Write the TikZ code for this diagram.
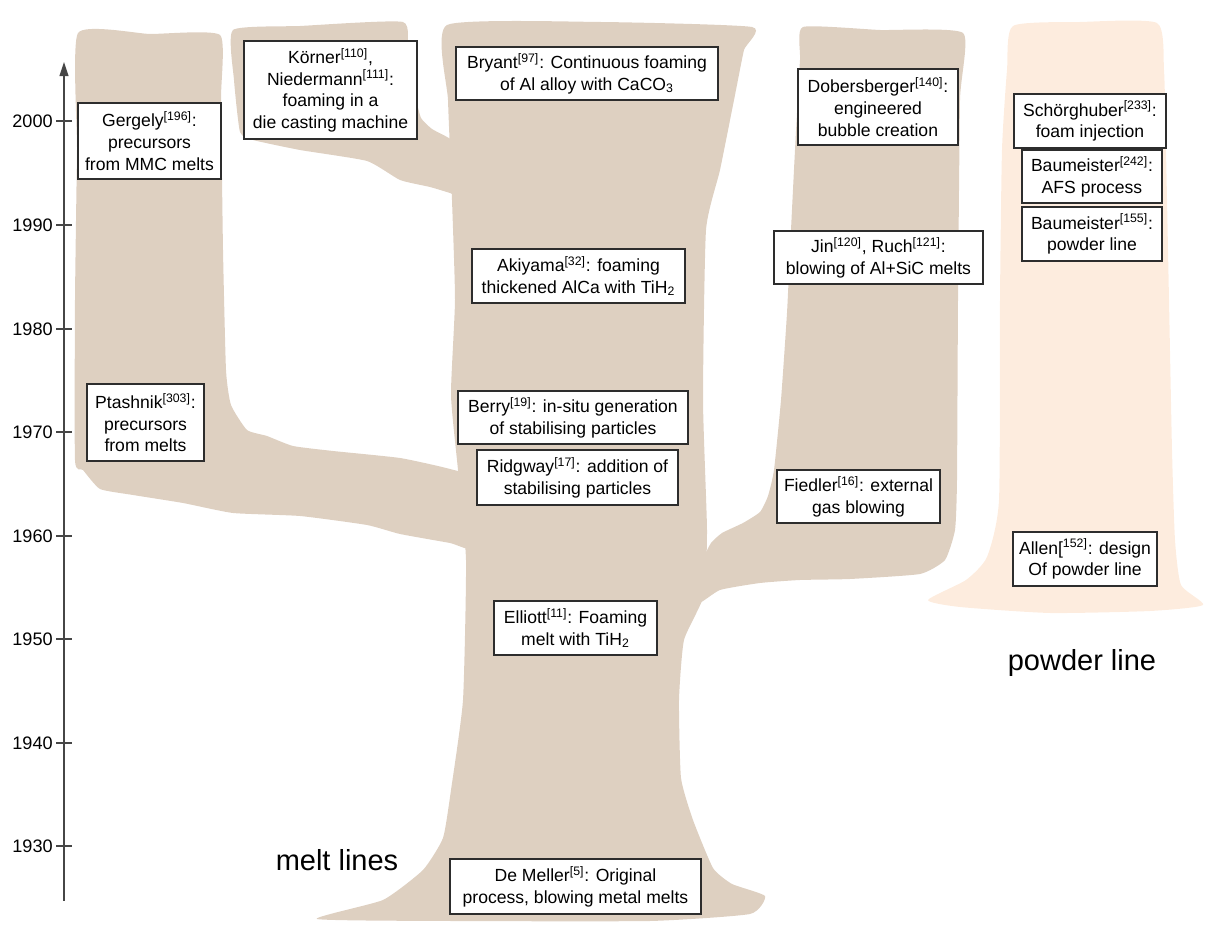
\documentclass[tikz,border=0pt]{standalone}
\usepackage{fontspec}
\setmainfont{Liberation Sans}
\usetikzlibrary{arrows.meta}
\definecolor{meltc}{RGB}{222,208,193}
\definecolor{powderc}{RGB}{253,236,222}
\definecolor{boxc}{RGB}{45,45,45}
\definecolor{axc}{RGB}{70,70,70}
\newcommand{\rfn}[1]{\textsuperscript{[#1]}}
\tikzset{
  melt/.style={fill=meltc, draw=none},
  powder/.style={fill=powderc, draw=none},
  box/.style={draw=boxc, line width=0.9pt, fill=white, inner sep=0pt, align=center, font=\fontsize{10}{12.3}\selectfont},
  yearlbl/.style={anchor=east, inner sep=0pt, font=\fontsize{10.3}{12}\selectfont},
  tick/.style={draw=axc, line width=0.8pt},
  big/.style={inner sep=0pt, font=\fontsize{16.5}{20}\selectfont}
}
\begin{document}
\begin{tikzpicture}[x=0.02cm,y=-0.02cm]
\useasboundingbox (0,0) rectangle (1205,925);

% ---------- powder line ----------
\fill[powder] plot[smooth cycle, tension=0.35] coordinates {
 (1013,26) (1080,22) (1157,23) (1164,70) (1166,150) (1169,300) (1172,450) (1175,540)
 (1181,585) (1203,605) (1150,611) (1050,613) (960,607) (928,600) (966,580) (987,557)
 (999,500) (1000,300) (1002,150) (1007,70)};

% ---------- melt lines ----------
% main trunk
\fill[melt] plot[smooth cycle, tension=0.3] coordinates {
 (447,25) (600,22) (752,27) (744,50) (735,95) (720,170) (706,230) (703,400) (707,530)
 (704,595) (684,640) (679,700) (681,778) (693,820) (713,868) (732,884) (765,896)
 (750,914) (650,921) (450,921) (317,919) (383,900) (423,870) (443,838) (451,790)
 (463,700) (466,560) (458,470) (451,395) (455,300) (452,200) (448,100)};
% left branch (Gergely / Ptashnik)
\fill[melt] plot[smooth cycle, tension=0.3] coordinates {
 (78,33) (150,34) (220,35) (221,100) (223,250) (226,370) (231,405) (247,430)
 (267,436) (293,446) (333,451) (400,458) (450,469) (475,480) (475,548) (450,543)
 (400,534) (367,525) (300,516) (233,513) (183,503) (133,495) (100,489) (83,470)
 (75,460) (75,300) (77,150)};
% Koerner branch
\fill[melt] plot[smooth cycle, tension=0.3] coordinates {
 (233,30) (300,26) (403,22) (407,55) (415,95) (421,118) (432,129) (447,137)
 (465,150) (465,198) (450,193) (430,187) (400,180) (367,161) (300,150) (253,140)
 (240,132) (234,80)};
% right branch (Dobersberger / Jin / Fiedler)
\fill[melt] plot[smooth cycle, tension=0.3] coordinates {
 (803,27) (880,30) (963,33) (960,100) (958,300) (957,480) (955,530) (945,560)
 (920,574) (850,579) (800,580) (760,583) (720,590) (697,604) (690,580) (703,558)
 (711,543) (722,533) (743,523) (760,512) (768,496) (774,470) (781,400) (787,313)
 (790,250) (795,150) (800,60)};

% ---------- time axis ----------
\coordinate (axb) at (64,901);
\coordinate (axt) at (64,62);
\draw[draw=axc, line width=0.9pt, -{Triangle[length=8pt,width=5pt]}] (axb) -- (axt);
\foreach \yr/\yy in {2000/121,1990/225,1980/329,1970/432,1960/536,1950/639,1940/743,1930/846}{
  \draw[tick] (56,\yy) -- (72,\yy);
  \node[yearlbl] (yr\yr) at (53,\yy) {\yr};
}

% ---------- boxes ----------
\node[box, minimum width=2.86cm, minimum height=1.52cm] (gergely) at (149.5,141)
  {Gergely\rfn{196}:\\precursors\\from MMC melts};
\node[box, minimum width=3.46cm, minimum height=1.96cm] (koerner) at (330.5,90)
  {Körner\rfn{110},\\Niedermann\rfn{111}:\\foaming in a\\die casting machine};
\node[box, minimum width=5.24cm, minimum height=1.06cm] (bryant) at (587,73.5)
  {Bryant\rfn{97}: Continuous foaming\\of Al alloy with CaCO\textsubscript{3}};
\node[box, minimum width=3.2cm, minimum height=1.52cm] (dobers) at (878,107)
  {Dobersberger\rfn{140}:\\engineered\\bubble creation};
\node[box, minimum width=3.04cm, minimum height=1.08cm] (schoerg) at (1090,121)
  {Schörghuber\rfn{233}:\\foam injection};
\node[box, minimum width=2.8cm, minimum height=1.06cm] (baum242) at (1092,176.5)
  {Baumeister\rfn{242}:\\AFS process};
\node[box, minimum width=2.8cm, minimum height=1.08cm] (baum155) at (1092,234)
  {Baumeister\rfn{155}:\\powder line};
\node[box, minimum width=4.18cm, minimum height=1.06cm] (jin) at (878.5,257.5)
  {Jin\rfn{120}, Ruch\rfn{121}:\\blowing of Al+SiC melts};
\node[box, minimum width=4.26cm, minimum height=1.08cm] (akiyama) at (578.5,276)
  {Akiyama\rfn{32}: foaming\\thickened AlCa with TiH\textsubscript{2}};
\node[box, minimum width=4.6cm, minimum height=1.06cm] (berry) at (573,417.5)
  {Berry\rfn{19}: in-situ generation\\of stabilising particles};
\node[box, minimum width=4.02cm, minimum height=1.1cm] (ridgway) at (577.5,477.5)
  {Ridgway\rfn{17}: addition of\\stabilising particles};
\node[box, minimum width=3.26cm, minimum height=1.06cm] (fiedler) at (858.5,496.5)
  {Fiedler\rfn{16}: external\\gas blowing};
\node[box, minimum width=2.34cm, minimum height=1.54cm] (ptashnik) at (145.5,422.5)
  {Ptashnik\rfn{303}:\\precursors\\from melts};
\node[box, minimum width=3.26cm, minimum height=1.08cm] (elliott) at (575.5,628)
  {Elliott\rfn{11}: Foaming\\melt with TiH\textsubscript{2}};
\node[box, minimum width=5.02cm, minimum height=1.1cm] (demeller) at (575.5,886.5)
  {De Meller\rfn{5}: Original\\process, blowing metal melts};
\node[box, minimum width=2.88cm, minimum height=1.08cm] (allen) at (1085,559)
  {Allen[\textsuperscript{152]}: design\\Of powder line};

% ---------- line labels ----------
\node[big] (meltlbl) at (337,860) {melt lines};
\node[big] (powderlbl) at (1082,663) {powder line};
\end{tikzpicture}
\end{document}
